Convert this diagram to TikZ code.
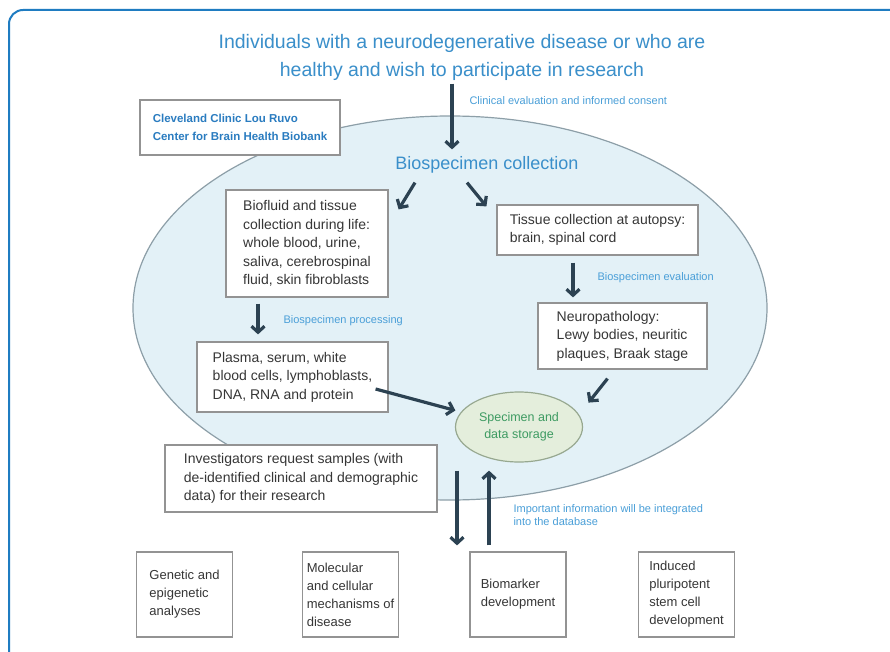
\documentclass[tikz,border=0pt]{standalone}
\usepackage{fontspec}
\setmainfont{Liberation Sans}
\usetikzlibrary{arrows.meta,shapes.geometric}
\definecolor{frameblue}{HTML}{1F7CC1}
\definecolor{titleblue}{HTML}{3A8FCA}
\definecolor{tagblue}{HTML}{4A9FD8}
\definecolor{ccblue}{HTML}{2A7CC0}
\definecolor{arrowgrey}{HTML}{2C4252}
\definecolor{boxgrey}{HTML}{939393}
\definecolor{textgrey}{HTML}{363636}
\definecolor{bankfill}{HTML}{E3F1F7}
\definecolor{bankline}{HTML}{8D9FA8}
\definecolor{storefill}{HTML}{E4EEDC}
\definecolor{storeline}{HTML}{97A890}
\definecolor{storetext}{HTML}{3E9B62}
\begin{document}
\begin{tikzpicture}[x=1pt,y=-1pt,
  arr/.style={-{Straight Barb[length=6pt,width=13pt]},line width=3.2pt,draw=arrowgrey},
  box/.style={draw=boxgrey,fill=white,line width=1.2pt,align=left,inner sep=0pt,text=textgrey,font=\fontsize{14}{18.5}\selectfont},
  lowbox/.style={box,minimum width=96pt,minimum height=85pt,font=\fontsize{13}{18}\selectfont},
  tag/.style={anchor=west,text=tagblue,align=left,font=\fontsize{11}{13.5}\selectfont}]
\useasboundingbox (0,0) rectangle (890,652);
\clip (0,0) rectangle (890,652);
\fill[white] (0,0) rectangle (890,652);
\draw[frameblue,line width=2pt,rounded corners=14pt] (9,10) rectangle (930,668);

% biobank ellipse
\node[ellipse,draw=bankline,fill=bankfill,line width=1.2pt,minimum width=634pt,minimum height=384pt,inner sep=0pt](bank) at (450,308) {};

\node[align=center,text=titleblue,font=\fontsize{19.5}{28}\selectfont](title) at (462,57)
  {Individuals with a neurodegenerative disease or who are\\healthy and wish to participate in research};
\node[box,draw=boxgrey,minimum width=200pt,minimum height=55pt,text=ccblue,font=\bfseries\fontsize{11.5}{18}\selectfont](cc) at (240,127.5)
  {Cleveland Clinic Lou Ruvo\\Center for Brain Health Biobank};
\node[text=titleblue,font=\fontsize{18}{22}\selectfont,inner sep=0pt](coll) at (487,165) {Biospecimen collection};

\node[box,minimum width=162pt,minimum height=107pt](life) at (307,243.5)
  {Biofluid and tissue\\collection during life:\\whole blood, urine,\\saliva, cerebrospinal\\fluid, skin fibroblasts};
\node[box,minimum width=191pt,minimum height=70pt](plasma) at (292.5,377)
  {Plasma, serum, white\\blood cells, lymphoblasts,\\DNA, RNA and protein};
\node[box,minimum width=201pt,minimum height=50pt](autopsy) at (597.5,230)
  {Tissue collection at autopsy:\\brain, spinal cord};
\node[box,minimum width=169pt,minimum height=66pt](neuro) at (622.5,336)
  {Neuropathology:\\Lewy bodies, neuritic\\plaques, Braak stage};
\node[ellipse,draw=storeline,fill=storefill,line width=1.2pt,minimum width=127pt,minimum height=70pt,inner sep=0pt,
  align=center,text=storetext,font=\fontsize{12.5}{17}\selectfont](storage) at (519,427) {Specimen and\\data storage};
\node[box,minimum width=272pt,minimum height=67pt](invest) at (301,478.5)
  {Investigators request samples (with\\de-identified clinical and demographic\\data) for their research};

\node[lowbox](genetic) at (184.5,594.5) {Genetic and\\epigenetic\\analyses};
\node[lowbox](molec) at (350.5,594.5) {Molecular\\and cellular\\mechanisms of\\disease};
\node[lowbox](bio) at (518,594.5) {Biomarker\\development};
\node[lowbox](ipsc) at (686.5,594.5) {Induced\\pluripotent\\stem cell\\development};

\node[tag](clin) at (466,101) {Clinical evaluation and informed consent};
\node[tag](proc) at (280,321) {Biospecimen processing};
\node[tag](eval) at (594,278) {Biospecimen evaluation};
\node[tag](info) at (510,515) {Important information will be integrated\\into the database};

\draw[arr] ([xshift=-35pt]coll.north |- title.south) -- ([xshift=-35pt,yshift=7pt]coll.north);
\draw[arr] ([xshift=-72pt,yshift=-9pt]coll.south) -- ([xshift=10pt,yshift=-20pt]life.north east);
\draw[arr] ([xshift=-20pt,yshift=-9pt]coll.south) -- ([xshift=-10pt,yshift=-2pt]autopsy.north west);
\draw[arr] ([xshift=-49pt,yshift=-6pt]life.south) -- ([xshift=-34.5pt,yshift=7pt]plasma.north);
\draw[arr] ([xshift=-24.5pt,yshift=-7pt]autopsy.south) -- ([xshift=-49.5pt,yshift=5pt]neuro.north);
\draw[arr] ([xshift=-13pt,yshift=-12pt]plasma.east) -- ([xshift=-10pt,yshift=-3pt]storage.160);
\draw[arr] ([xshift=-15pt,yshift=-9pt]neuro.south) -- ([xshift=-34pt,yshift=-33pt]neuro.south);
\draw[arr] ([xshift=-62pt,yshift=-8pt]storage.south) -- ([xshift=-61pt,yshift=6pt]bio.north);
\draw[arr] ([xshift=-29pt,yshift=6pt]bio.north) -- ([xshift=-30pt,yshift=-8pt]storage.south);
\end{tikzpicture}
\end{document}
